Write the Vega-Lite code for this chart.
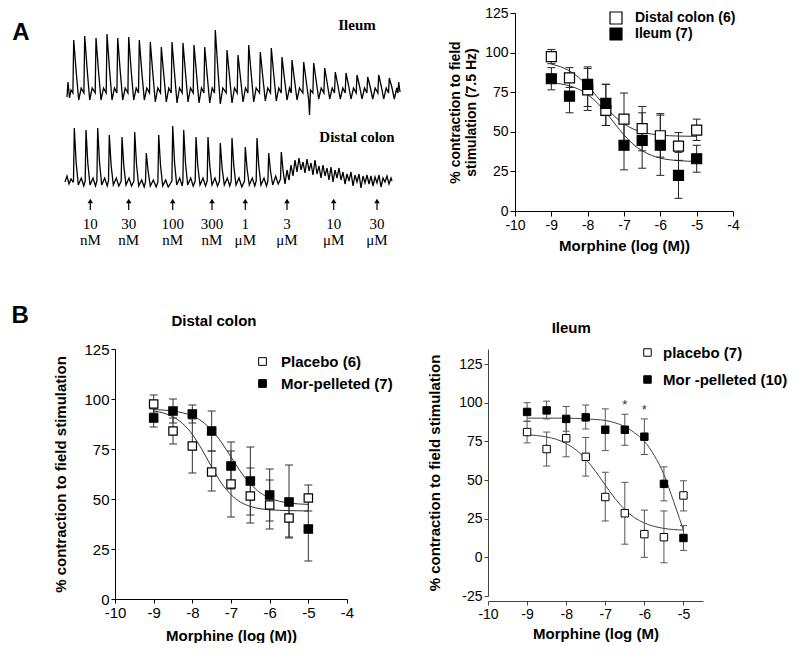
{
"$schema": "https://vega.github.io/schema/vega-lite/v6.json",
"background": "white",
"padding": {"left": 11, "top": 6, "right": 0, "bottom": 0},
"spacing": 49,
"resolve": {"scale": {"fill": "independent"}, "legend": {"fill": "independent"}},
"config": {
  "font": "Liberation Sans",
  "view": {"stroke": null},
  "axis": {"grid": false, "domainColor": "black", "tickColor": "black", "labelColor": "black", "titleColor": "black", "labelFont": "Liberation Sans", "titleFont": "Liberation Sans", "titleFontWeight": "bold", "labelFontSize": 14, "titleFontSize": 14, "tickSize": 5, "labelPadding": 2, "domainWidth": 1, "tickWidth": 1, "labelOverlap": false, "labelFlush": false},
  "legend": {"orient": "none", "symbolType": "square", "symbolStrokeColor": "black", "labelFont": "Liberation Sans", "labelFontWeight": "bold", "labelColor": "black", "padding": 0},
  "title": {"font": "Liberation Sans", "fontWeight": "bold", "color": "black"}
},
"datasets": {
  "ileum": [{"x":65,"y":97},{"x":66,"y":82},{"x":67.5,"y":98},{"x":69,"y":90},
{"x":70.9,"y":93},{"x":71.7,"y":40},{"x":74.2,"y":72},{"x":76.7,"y":100},{"x":79.2,"y":88},
{"x":81.9,"y":93},{"x":82.7,"y":36},{"x":85.2,"y":70},{"x":87.7,"y":100},{"x":90.2,"y":88},
{"x":93.2,"y":93},{"x":94,"y":38},{"x":96.5,"y":71},{"x":99,"y":100},{"x":101.5,"y":88},
{"x":104.2,"y":93},{"x":105,"y":34},{"x":107.5,"y":69},{"x":110,"y":100},{"x":112.5,"y":88},
{"x":114.9,"y":93},{"x":115.7,"y":38},{"x":118.2,"y":71},{"x":120.7,"y":100},{"x":123.2,"y":88},
{"x":125.9,"y":93},{"x":126.7,"y":37},{"x":129.2,"y":71},{"x":131.7,"y":100},{"x":134.2,"y":88},
{"x":136.5,"y":93},{"x":137.3,"y":40},{"x":139.8,"y":72},{"x":142.3,"y":100},{"x":144.8,"y":88},
{"x":147.5,"y":93},{"x":148.3,"y":42},{"x":150.8,"y":73},{"x":153.3,"y":102},{"x":155.8,"y":88},
{"x":158.5,"y":93},{"x":159.3,"y":47},{"x":161.8,"y":75},{"x":164.3,"y":102},{"x":166.8,"y":88},
{"x":169.2,"y":93},{"x":170,"y":42},{"x":172.5,"y":73},{"x":175,"y":103},{"x":177.5,"y":88},
{"x":180.2,"y":93},{"x":181,"y":43},{"x":183.5,"y":73},{"x":186,"y":102},{"x":188.5,"y":88},
{"x":191.2,"y":93},{"x":192,"y":45},{"x":194.5,"y":74},{"x":197,"y":103},{"x":199.5,"y":88},
{"x":201.9,"y":93},{"x":202.7,"y":47},{"x":205.2,"y":75},{"x":207.7,"y":103},{"x":210.2,"y":88},
{"x":212.5,"y":93},{"x":213.3,"y":30},{"x":215.8,"y":68},{"x":218.3,"y":104},{"x":220.8,"y":88},
{"x":224.2,"y":93},{"x":225,"y":50},{"x":227.5,"y":76},{"x":230,"y":103},{"x":232.5,"y":88},
{"x":235.2,"y":93},{"x":236,"y":55},{"x":238.5,"y":78},{"x":241,"y":102},{"x":243.5,"y":88},
{"x":245.9,"y":93},{"x":246.7,"y":45},{"x":249.2,"y":74},{"x":251.7,"y":102},{"x":254.2,"y":88},
{"x":257.5,"y":93},{"x":258.3,"y":52},{"x":260.8,"y":77},{"x":263.3,"y":101},{"x":265.8,"y":88},
{"x":268.5,"y":93},{"x":269.3,"y":48},{"x":271.8,"y":75},{"x":274.3,"y":101},{"x":276.8,"y":88},
{"x":279.2,"y":93},{"x":280,"y":57},{"x":282.5,"y":79},{"x":285,"y":100},{"x":287.5,"y":88},
{"x":289.2,"y":93},{"x":290,"y":60},{"x":292.5,"y":80},{"x":295,"y":100},{"x":297.5,"y":88},
{"x":300.9,"y":93},{"x":301.7,"y":62},{"x":304.2,"y":81},{"x":306.7,"y":100},{"x":307.5,"y":115},{"x":308.5,"y":90},
{"x":310.9,"y":93},{"x":311.7,"y":63},{"x":314.2,"y":81},{"x":316.7,"y":99},{"x":319.2,"y":88},
{"x":321.9,"y":93},{"x":322.7,"y":68},{"x":325.2,"y":83},{"x":327.7,"y":99},{"x":330.2,"y":88},
{"x":332.5,"y":93},{"x":333.3,"y":72},{"x":335.8,"y":85},{"x":338.3,"y":99},{"x":340.8,"y":88},
{"x":343.2,"y":93},{"x":344,"y":73},{"x":346.5,"y":85},{"x":349,"y":99},{"x":351.5,"y":88},
{"x":354.2,"y":93},{"x":355,"y":75},{"x":357.5,"y":86},{"x":360,"y":99},{"x":362.5,"y":88},
{"x":364.9,"y":93},{"x":365.7,"y":77},{"x":368.2,"y":87},{"x":370.7,"y":99},{"x":373.2,"y":88},
{"x":375.9,"y":93},{"x":376.7,"y":75},{"x":379.2,"y":86},{"x":381.7,"y":99},{"x":384.2,"y":88},
{"x":386.5,"y":93},{"x":387.3,"y":78},{"x":389.8,"y":87},{"x":392.3,"y":99},{"x":394.8,"y":88},
{"x":395.9,"y":93},{"x":396.7,"y":82},{"x":398,"y":92}],
  "colon": [{"x":63,"y":182},{"x":65,"y":176},{"x":67,"y":184},{"x":69,"y":179},{"x":71,"y":182},
{"x":71.5,"y":181},{"x":72.3,"y":128},{"x":74.1,"y":162},{"x":76.3,"y":185},{"x":79.3,"y":178},{"x":81.8,"y":186},
{"x":83.2,"y":181},{"x":84,"y":130},{"x":85.8,"y":163},{"x":88,"y":185},{"x":91,"y":178},{"x":93.5,"y":186},
{"x":94.9,"y":181},{"x":95.7,"y":128},{"x":97.5,"y":162},{"x":99.7,"y":185},{"x":102.7,"y":178},{"x":105.2,"y":186},
{"x":106.5,"y":181},{"x":107.3,"y":135},{"x":109.1,"y":165},{"x":111.3,"y":185},{"x":114.3,"y":178},{"x":116.8,"y":186},
{"x":119.2,"y":181},{"x":120,"y":137},{"x":121.8,"y":166},{"x":124,"y":185},{"x":127,"y":178},{"x":129.5,"y":186},
{"x":131.9,"y":181},{"x":132.7,"y":132},{"x":134.5,"y":164},{"x":136.7,"y":186},{"x":139.7,"y":180},{"x":142.2,"y":187},
{"x":143.5,"y":182},{"x":144.3,"y":153},{"x":146.1,"y":171},{"x":148.3,"y":186},{"x":151.3,"y":180},{"x":154.2,"y":187},
{"x":155.9,"y":182},{"x":156.7,"y":135},{"x":158.5,"y":165},{"x":160.7,"y":186},{"x":163.7,"y":180},{"x":166.2,"y":187},
{"x":169.9,"y":181},{"x":170.7,"y":126},{"x":172.5,"y":162},{"x":174.7,"y":185},{"x":177.7,"y":178},{"x":180.2,"y":186},
{"x":180.9,"y":181},{"x":181.7,"y":130},{"x":183.5,"y":163},{"x":185.7,"y":185},{"x":188.7,"y":178},{"x":191.2,"y":186},
{"x":193.2,"y":181},{"x":194,"y":137},{"x":195.8,"y":166},{"x":198,"y":185},{"x":201,"y":178},{"x":203.5,"y":186},
{"x":205.2,"y":181},{"x":206,"y":137},{"x":207.8,"y":166},{"x":210,"y":185},{"x":213,"y":178},{"x":215.5,"y":186},
{"x":217.5,"y":181},{"x":218.3,"y":143},{"x":220.1,"y":168},{"x":222.3,"y":185},{"x":225.3,"y":178},{"x":227.8,"y":186},
{"x":229.2,"y":181},{"x":230,"y":138},{"x":231.8,"y":166},{"x":234,"y":185},{"x":237,"y":178},{"x":239.8,"y":187},
{"x":242.5,"y":181},{"x":243.3,"y":147},{"x":245.1,"y":169},{"x":247.3,"y":185},{"x":250.3,"y":178},{"x":252.8,"y":186},
{"x":254.2,"y":181},{"x":255,"y":138},{"x":256.8,"y":166},{"x":259,"y":185},{"x":262,"y":178},{"x":264.5,"y":186},
{"x":265.9,"y":181},{"x":266.7,"y":153},{"x":268.5,"y":171},{"x":270.7,"y":185},{"x":273.7,"y":176},{"x":276.2,"y":184},
{"x":278.5,"y":179},{"x":279.3,"y":152},{"x":281.1,"y":171},{"x":283,"y":184},
{"x":285,"y":170},{"x":287,"y":180},{"x":289,"y":165},{"x":291,"y":176},{"x":293,"y":160},{"x":295,"y":172},{"x":297,"y":158},{"x":299,"y":170},{"x":301,"y":162},{"x":303,"y":173},{"x":305,"y":159},{"x":307,"y":171},{"x":309,"y":163},{"x":311,"y":175},{"x":313,"y":160},{"x":315,"y":174},{"x":317,"y":166},{"x":319,"y":178},{"x":321,"y":165},{"x":323,"y":176},{"x":325,"y":168},{"x":327,"y":180},{"x":329,"y":167},{"x":331,"y":182},{"x":333,"y":170},{"x":335,"y":178},{"x":337,"y":168},{"x":339,"y":180},{"x":341,"y":172},{"x":343,"y":184},{"x":345,"y":174},{"x":347,"y":181},{"x":349,"y":172},{"x":351,"y":186},{"x":353,"y":175},{"x":355,"y":182},{"x":357,"y":174},{"x":359,"y":188},{"x":361,"y":176},{"x":363,"y":183},{"x":365,"y":175},{"x":367,"y":184},{"x":369,"y":176},{"x":371,"y":186},{"x":373,"y":177},{"x":375,"y":183},{"x":377,"y":175},{"x":379,"y":187},{"x":381,"y":178},{"x":383,"y":182},{"x":385,"y":176},{"x":387,"y":184},{"x":389,"y":178},{"x":390,"y":181}],
  "doses": [{"x":88.3,"c":"10","u":"nM"},{"x":126.7,"c":"30","u":"nM"},{"x":170.7,"c":"100","u":"nM"},{"x":210,"c":"300","u":"nM"},{"x":243.3,"c":"1","u":"μM"},{"x":285,"c":"3","u":"μM"},{"x":331.7,"c":"10","u":"μM"},{"x":375,"c":"30","u":"μM"}],
  "ptsA": [
{"g":"Distal colon (6)","x":-9,"y":97.5,"lo":93,"hi":102},
{"g":"Distal colon (6)","x":-8.5,"y":84,"lo":78,"hi":90.5},
{"g":"Distal colon (6)","x":-8,"y":76.5,"lo":63.5,"hi":91},
{"g":"Distal colon (6)","x":-7.5,"y":63.5,"lo":54,"hi":80},
{"g":"Distal colon (6)","x":-7,"y":58,"lo":42,"hi":74.5},
{"g":"Distal colon (6)","x":-6.5,"y":52,"lo":38,"hi":66},
{"g":"Distal colon (6)","x":-6,"y":47.5,"lo":34,"hi":61.5},
{"g":"Distal colon (6)","x":-5.5,"y":41,"lo":32,"hi":49.5},
{"g":"Distal colon (6)","x":-5,"y":51,"lo":44.5,"hi":58},
{"g":"Ileum (7)","x":-9,"y":83.5,"lo":76.5,"hi":90.5},
{"g":"Ileum (7)","x":-8.5,"y":72.5,"lo":62,"hi":83},
{"g":"Ileum (7)","x":-8,"y":80,"lo":66,"hi":90},
{"g":"Ileum (7)","x":-7.5,"y":68,"lo":54,"hi":80},
{"g":"Ileum (7)","x":-7,"y":41.5,"lo":26,"hi":57},
{"g":"Ileum (7)","x":-6.5,"y":44.5,"lo":27,"hi":62},
{"g":"Ileum (7)","x":-6,"y":41.5,"lo":22.5,"hi":60.5},
{"g":"Ileum (7)","x":-5.5,"y":22.5,"lo":8,"hi":37},
{"g":"Ileum (7)","x":-5,"y":33,"lo":24.5,"hi":41.5}],
  "curveA": [
{"g":"Distal colon (6)","x":-9,"y":92.7},{"g":"Distal colon (6)","x":-8.75,"y":91.1},{"g":"Distal colon (6)","x":-8.5,"y":88.4},{"g":"Distal colon (6)","x":-8.25,"y":84.4},{"g":"Distal colon (6)","x":-8,"y":79},{"g":"Distal colon (6)","x":-7.75,"y":72.4},{"g":"Distal colon (6)","x":-7.5,"y":65.6},{"g":"Distal colon (6)","x":-7.25,"y":59.6},{"g":"Distal colon (6)","x":-7,"y":55},{"g":"Distal colon (6)","x":-6.75,"y":51.8},{"g":"Distal colon (6)","x":-6.5,"y":49.8},{"g":"Distal colon (6)","x":-6.25,"y":48.6},{"g":"Distal colon (6)","x":-6,"y":47.9},{"g":"Distal colon (6)","x":-5.5,"y":47.3},{"g":"Distal colon (6)","x":-5,"y":47.1},
{"g":"Ileum (7)","x":-9,"y":81},{"g":"Ileum (7)","x":-8.5,"y":79},{"g":"Ileum (7)","x":-8.25,"y":76.9},{"g":"Ileum (7)","x":-8,"y":73.5},{"g":"Ileum (7)","x":-7.75,"y":68.6},{"g":"Ileum (7)","x":-7.5,"y":62.3},{"g":"Ileum (7)","x":-7.25,"y":55},{"g":"Ileum (7)","x":-7,"y":48},{"g":"Ileum (7)","x":-6.75,"y":42.2},{"g":"Ileum (7)","x":-6.5,"y":38},{"g":"Ileum (7)","x":-6.25,"y":35.2},{"g":"Ileum (7)","x":-6,"y":33.4},{"g":"Ileum (7)","x":-5.5,"y":31.8},{"g":"Ileum (7)","x":-5,"y":31.3}],
  "ptsB1": [
{"g":"Placebo (6)","x":-9,"y":97.5,"lo":93,"hi":102},
{"g":"Placebo (6)","x":-8.5,"y":84,"lo":77.5,"hi":90.5},
{"g":"Placebo (6)","x":-8,"y":76.5,"lo":63,"hi":90},
{"g":"Placebo (6)","x":-7.5,"y":63.5,"lo":54,"hi":74},
{"g":"Placebo (6)","x":-7,"y":57.5,"lo":41,"hi":74},
{"g":"Placebo (6)","x":-6.5,"y":51.5,"lo":38,"hi":65.5},
{"g":"Placebo (6)","x":-6,"y":47,"lo":35,"hi":59.5},
{"g":"Placebo (6)","x":-5.5,"y":40.5,"lo":31,"hi":50},
{"g":"Placebo (6)","x":-5,"y":50.5,"lo":44,"hi":57},
{"g":"Mor-pelleted (7)","x":-9,"y":90.5,"lo":86,"hi":95},
{"g":"Mor-pelleted (7)","x":-8.5,"y":94,"lo":88,"hi":100},
{"g":"Mor-pelleted (7)","x":-8,"y":92.5,"lo":88,"hi":97},
{"g":"Mor-pelleted (7)","x":-7.5,"y":84,"lo":74,"hi":94},
{"g":"Mor-pelleted (7)","x":-7,"y":66.5,"lo":55,"hi":78.5},
{"g":"Mor-pelleted (7)","x":-6.5,"y":59,"lo":42,"hi":76},
{"g":"Mor-pelleted (7)","x":-6,"y":52,"lo":39,"hi":65},
{"g":"Mor-pelleted (7)","x":-5.5,"y":48.5,"lo":30.5,"hi":67},
{"g":"Mor-pelleted (7)","x":-5,"y":35,"lo":19,"hi":51}],
  "curveB1": [
{"g":"Placebo (6)","x":-9,"y":94},{"g":"Placebo (6)","x":-8.75,"y":93},{"g":"Placebo (6)","x":-8.5,"y":91.1},{"g":"Placebo (6)","x":-8.25,"y":87.7},{"g":"Placebo (6)","x":-8,"y":82.3},{"g":"Placebo (6)","x":-7.75,"y":74.7},{"g":"Placebo (6)","x":-7.5,"y":66},{"g":"Placebo (6)","x":-7.25,"y":58},{"g":"Placebo (6)","x":-7,"y":52.2},{"g":"Placebo (6)","x":-6.75,"y":48.4},{"g":"Placebo (6)","x":-6.5,"y":46.3},{"g":"Placebo (6)","x":-6,"y":44.6},{"g":"Placebo (6)","x":-5.5,"y":44.2},{"g":"Placebo (6)","x":-5,"y":44},
{"g":"Mor-pelleted (7)","x":-9,"y":94.7},{"g":"Mor-pelleted (7)","x":-8.5,"y":94},{"g":"Mor-pelleted (7)","x":-8,"y":91.5},{"g":"Mor-pelleted (7)","x":-7.75,"y":88.8},{"g":"Mor-pelleted (7)","x":-7.5,"y":84.4},{"g":"Mor-pelleted (7)","x":-7.25,"y":78.4},{"g":"Mor-pelleted (7)","x":-7,"y":71},{"g":"Mor-pelleted (7)","x":-6.75,"y":63.6},{"g":"Mor-pelleted (7)","x":-6.5,"y":57.6},{"g":"Mor-pelleted (7)","x":-6.25,"y":53.2},{"g":"Mor-pelleted (7)","x":-6,"y":50.5},{"g":"Mor-pelleted (7)","x":-5.5,"y":48},{"g":"Mor-pelleted (7)","x":-5,"y":47.3}],
  "ptsB2": [
{"g":"placebo (7)","x":-9,"y":81,"lo":74,"hi":88,"sig":""},
{"g":"placebo (7)","x":-8.5,"y":70,"lo":59,"hi":81,"sig":""},
{"g":"placebo (7)","x":-8,"y":77,"lo":65,"hi":89,"sig":""},
{"g":"placebo (7)","x":-7.5,"y":65,"lo":52.5,"hi":77.5,"sig":""},
{"g":"placebo (7)","x":-7,"y":39,"lo":23.5,"hi":55,"sig":""},
{"g":"placebo (7)","x":-6.5,"y":28.5,"lo":8.5,"hi":48.5,"sig":""},
{"g":"placebo (7)","x":-6,"y":15,"lo":0,"hi":30.5,"sig":""},
{"g":"placebo (7)","x":-5.5,"y":13,"lo":-3.5,"hi":30,"sig":""},
{"g":"placebo (7)","x":-5,"y":40,"lo":30,"hi":49.5,"sig":""},
{"g":"Mor -pelleted (10)","x":-9,"y":94,"lo":88,"hi":100,"sig":""},
{"g":"Mor -pelleted (10)","x":-8.5,"y":95,"lo":89.5,"hi":101,"sig":""},
{"g":"Mor -pelleted (10)","x":-8,"y":89.5,"lo":81.5,"hi":97.5,"sig":""},
{"g":"Mor -pelleted (10)","x":-7.5,"y":90.5,"lo":83,"hi":98.5,"sig":""},
{"g":"Mor -pelleted (10)","x":-7,"y":82.5,"lo":69,"hi":96,"sig":""},
{"g":"Mor -pelleted (10)","x":-6.5,"y":82.5,"lo":72.5,"hi":92.5,"sig":"*"},
{"g":"Mor -pelleted (10)","x":-6,"y":78,"lo":66.5,"hi":89.5,"sig":"*"},
{"g":"Mor -pelleted (10)","x":-5.5,"y":47.5,"lo":36.5,"hi":58.5,"sig":""},
{"g":"Mor -pelleted (10)","x":-5,"y":12.5,"lo":4.5,"hi":20.5,"sig":""}],
  "curveB2": [
{"g":"placebo (7)","x":-9,"y":79.3},{"g":"placebo (7)","x":-8.5,"y":77.8},{"g":"placebo (7)","x":-8.25,"y":76.3},{"g":"placebo (7)","x":-8,"y":73.6},{"g":"placebo (7)","x":-7.75,"y":69.5},{"g":"placebo (7)","x":-7.5,"y":63.5},{"g":"placebo (7)","x":-7.25,"y":55.6},{"g":"placebo (7)","x":-7,"y":46.7},{"g":"placebo (7)","x":-6.75,"y":38},{"g":"placebo (7)","x":-6.5,"y":30.9},{"g":"placebo (7)","x":-6.25,"y":25.6},{"g":"placebo (7)","x":-6,"y":22.2},{"g":"placebo (7)","x":-5.75,"y":20},{"g":"placebo (7)","x":-5.5,"y":18.7},{"g":"placebo (7)","x":-5,"y":17.6},
{"g":"Mor -pelleted (10)","x":-9,"y":90},{"g":"Mor -pelleted (10)","x":-8,"y":90},{"g":"Mor -pelleted (10)","x":-7.5,"y":89.5},{"g":"Mor -pelleted (10)","x":-7,"y":88.5},{"g":"Mor -pelleted (10)","x":-6.75,"y":87},{"g":"Mor -pelleted (10)","x":-6.5,"y":84.5},{"g":"Mor -pelleted (10)","x":-6.25,"y":80.5},{"g":"Mor -pelleted (10)","x":-6,"y":75},{"g":"Mor -pelleted (10)","x":-5.75,"y":66},{"g":"Mor -pelleted (10)","x":-5.5,"y":53.5},{"g":"Mor -pelleted (10)","x":-5.25,"y":36},{"g":"Mor -pelleted (10)","x":-5.1,"y":25},{"g":"Mor -pelleted (10)","x":-5,"y":17.5}]
},
"vconcat": [
{
  "spacing": 45,
  "resolve": {"scale": {"fill": "independent"}, "legend": {"fill": "independent"}},
  "hconcat": [
  {
    "width": 287, "height": 242,
    "layer": [
      {"data": {"name": "ileum"}, "mark": {"type": "line", "color": "black", "strokeWidth": 1.3},
       "encoding": {"x": {"field": "x", "type": "quantitative", "scale": {"domain": [113, 400], "nice": false, "zero": false}, "axis": null},
                    "y": {"field": "y", "type": "quantitative", "scale": {"domain": [13, 255], "reverse": true, "nice": false, "zero": false}, "axis": null}}},
      {"data": {"name": "colon"}, "mark": {"type": "line", "color": "black", "strokeWidth": 1.3},
       "encoding": {"x": {"field": "x", "type": "quantitative", "axis": null}, "y": {"field": "y", "type": "quantitative", "axis": null}}},
      {"data": {"name": "doses"}, "mark": {"type": "rule", "color": "black", "strokeWidth": 1.2},
       "encoding": {"x": {"field": "x", "type": "quantitative", "axis": null}, "y": {"datum": 210, "type": "quantitative", "axis": null}, "y2": {"datum": 202}}},
      {"data": {"name": "doses"}, "mark": {"type": "point", "shape": "triangle-up", "filled": true, "color": "black", "size": 30, "opacity": 1},
       "encoding": {"x": {"field": "x", "type": "quantitative", "axis": null}, "y": {"datum": 201, "type": "quantitative", "axis": null}}},
      {"data": {"name": "doses"}, "mark": {"type": "text", "font": "Liberation Serif", "fontSize": 15, "color": "black", "baseline": "middle"},
       "encoding": {"x": {"field": "x", "type": "quantitative", "axis": null}, "y": {"datum": 224, "type": "quantitative", "axis": null}, "text": {"field": "c"}}},
      {"data": {"name": "doses"}, "mark": {"type": "text", "font": "Liberation Serif", "fontSize": 15, "color": "black", "baseline": "middle"},
       "encoding": {"x": {"field": "x", "type": "quantitative", "axis": null}, "y": {"datum": 240, "type": "quantitative", "axis": null}, "text": {"field": "u"}}},
      {"data": {"values": [{}]}, "mark": {"type": "text", "font": "Liberation Serif", "fontSize": 15, "fontWeight": "bold", "color": "black", "baseline": "middle"},
       "encoding": {"x": {"datum": 355, "type": "quantitative", "axis": null}, "y": {"datum": 25, "type": "quantitative", "axis": null}, "text": {"value": "Ileum"}}},
      {"data": {"values": [{}]}, "mark": {"type": "text", "font": "Liberation Serif", "fontSize": 15, "fontWeight": "bold", "color": "black", "baseline": "middle"},
       "encoding": {"x": {"datum": 355, "type": "quantitative", "axis": null}, "y": {"datum": 137, "type": "quantitative", "axis": null}, "text": {"value": "Distal colon"}}},
      {"data": {"values": [{}]}, "mark": {"type": "text", "font": "Liberation Sans", "fontSize": 24, "fontWeight": "bold", "color": "black", "baseline": "middle"},
       "encoding": {"x": {"datum": 19, "type": "quantitative", "axis": null}, "y": {"datum": 33, "type": "quantitative", "axis": null}, "text": {"value": "A"}}}
    ]
  },
  {
    "width": 218, "height": 198,
    "layer": [
      {"data": {"name": "curveA"}, "mark": {"type": "line", "color": "#333", "strokeWidth": 1, "interpolate": "monotone"},
       "encoding": {
         "x": {"field": "x", "type": "quantitative", "scale": {"domain": [-10, -4], "nice": false, "zero": false}, "axis": {"values": [-10,-9,-8,-7,-6,-5,-4], "tickCount": 20, "labelOverlap": false, "labelExpr": "'' + datum.value", "title": "Morphine (log (M))", "titleFontSize": 15, "titlePadding": 6}},
         "y": {"field": "y", "type": "quantitative", "scale": {"domain": [0, 125], "nice": false}, "axis": {"values": [0,25,50,75,100,125], "tickCount": 20, "labelOverlap": false, "title": ["% contraction to field", "stimulation (7.5 Hz)"], "titlePadding": 6}},
         "detail": {"field": "g"}}},
      {"data": {"name": "ptsA"}, "mark": {"type": "rule", "color": "#222", "strokeWidth": 1},
       "encoding": {"x": {"field": "x", "type": "quantitative"}, "y": {"field": "lo", "type": "quantitative"}, "y2": {"field": "hi"}}},
      {"data": {"name": "ptsA"}, "mark": {"type": "tick", "orient": "horizontal", "size": 8, "thickness": 1, "color": "#222", "opacity": 1},
       "encoding": {"x": {"field": "x", "type": "quantitative"}, "y": {"field": "lo", "type": "quantitative"}}},
      {"data": {"name": "ptsA"}, "mark": {"type": "tick", "orient": "horizontal", "size": 8, "thickness": 1, "color": "#222", "opacity": 1},
       "encoding": {"x": {"field": "x", "type": "quantitative"}, "y": {"field": "hi", "type": "quantitative"}}},
      {"data": {"name": "ptsA"}, "mark": {"type": "point", "shape": "square", "filled": true, "size": 100, "stroke": "black", "strokeWidth": 1.2, "opacity": 1},
       "encoding": {"x": {"field": "x", "type": "quantitative"}, "y": {"field": "y", "type": "quantitative"},
         "fill": {"field": "g", "type": "nominal", "scale": {"domain": ["Distal colon (6)", "Ileum (7)"], "range": ["white", "black"]},
           "legend": {"title": null, "legendX": 94, "legendY": -2, "symbolSize": 144, "symbolStrokeWidth": 1.2, "labelFontSize": 14, "labelOffset": 12, "rowPadding": -4}}}}
    ]
  }
  ]
},
{
  "spacing": 34,
  "resolve": {"scale": {"fill": "independent"}, "legend": {"fill": "independent"}},
  "hconcat": [
  {
    "width": 232, "height": 250,
    "layer": [
      {"data": {"name": "curveB1"}, "mark": {"type": "line", "color": "#333", "strokeWidth": 1, "interpolate": "monotone"},
       "encoding": {
         "x": {"field": "x", "type": "quantitative", "scale": {"domain": [-10, -4], "nice": false, "zero": false}, "axis": {"values": [-10,-9,-8,-7,-6,-5,-4], "tickCount": 20, "labelOverlap": false, "labelExpr": "'' + datum.value", "title": "Morphine (log (M))", "titleFontSize": 15, "titlePadding": 8, "tickSize": 4, "labelFontSize": 15}},
         "y": {"field": "y", "type": "quantitative", "scale": {"domain": [0, 125], "nice": false}, "axis": {"values": [0,25,50,75,100,125], "tickCount": 20, "labelOverlap": false, "title": "% contraction to field stimulation", "titleFontSize": 15, "titlePadding": 15, "tickSize": 4, "labelFontSize": 15}},
         "detail": {"field": "g"}}},
      {"data": {"name": "ptsB1"}, "mark": {"type": "rule", "color": "#333", "strokeWidth": 1},
       "encoding": {"x": {"field": "x", "type": "quantitative"}, "y": {"field": "lo", "type": "quantitative"}, "y2": {"field": "hi"}}},
      {"data": {"name": "ptsB1"}, "mark": {"type": "tick", "orient": "horizontal", "size": 8, "thickness": 1, "color": "#333", "opacity": 1},
       "encoding": {"x": {"field": "x", "type": "quantitative"}, "y": {"field": "lo", "type": "quantitative"}}},
      {"data": {"name": "ptsB1"}, "mark": {"type": "tick", "orient": "horizontal", "size": 8, "thickness": 1, "color": "#333", "opacity": 1},
       "encoding": {"x": {"field": "x", "type": "quantitative"}, "y": {"field": "hi", "type": "quantitative"}}},
      {"data": {"name": "ptsB1"}, "mark": {"type": "point", "shape": "square", "filled": true, "size": 70, "stroke": "black", "strokeWidth": 1.2, "opacity": 1},
       "encoding": {"x": {"field": "x", "type": "quantitative"}, "y": {"field": "y", "type": "quantitative"},
         "fill": {"field": "g", "type": "nominal", "scale": {"domain": ["Placebo (6)", "Mor-pelleted (7)"], "range": ["white", "black"]},
           "legend": {"title": null, "legendX": 140, "legendY": 5, "symbolSize": 60, "symbolStrokeWidth": 1, "labelFontSize": 15, "labelOffset": 11, "rowPadding": 6}}}},
      {"data": {"values": [{}]}, "mark": {"type": "text", "font": "Liberation Sans", "fontSize": 24, "fontWeight": "bold", "color": "black", "baseline": "middle"},
       "encoding": {"x": {"datum": -12.45, "type": "quantitative"}, "y": {"datum": 141.5, "type": "quantitative"}, "text": {"value": "B"}}},
      {"data": {"values": [{}]}, "mark": {"type": "text", "font": "Liberation Sans", "fontSize": 15, "fontWeight": "bold", "color": "black", "baseline": "middle"},
       "encoding": {"x": {"datum": -7.44, "type": "quantitative"}, "y": {"datum": 139, "type": "quantitative"}, "text": {"value": "Distal colon"}}}
    ]
  },
  {
    "width": 215, "height": 247,
    "layer": [
      {"data": {"name": "curveB2"}, "mark": {"type": "line", "color": "#444", "strokeWidth": 1, "interpolate": "monotone"},
       "encoding": {
         "x": {"field": "x", "type": "quantitative", "scale": {"domain": [-10, -4.5], "nice": false, "zero": false}, "axis": {"values": [-10,-9,-8,-7,-6,-5], "tickCount": 20, "labelOverlap": false, "labelExpr": "'' + datum.value", "title": "Morphine (log (M)", "titleFontSize": 15, "titlePadding": 5, "offset": 5, "tickSize": 4, "labelFontSize": 14, "domainColor": "#444", "tickColor": "#444"}},
         "y": {"field": "y", "type": "quantitative", "scale": {"domain": [-25, 134.7], "nice": false, "zero": false}, "axis": {"values": [-25,0,25,50,75,100,125], "tickCount": 20, "labelOverlap": false, "labelExpr": "'' + datum.value", "title": "% contraction to field stimulation", "titleFontSize": 15, "titlePadding": 16, "tickSize": 4, "labelFontSize": 14, "domainColor": "#444", "tickColor": "#444"}},
         "detail": {"field": "g"}}},
      {"data": {"name": "ptsB2"}, "mark": {"type": "rule", "color": "#555", "strokeWidth": 1},
       "encoding": {"x": {"field": "x", "type": "quantitative"}, "y": {"field": "lo", "type": "quantitative"}, "y2": {"field": "hi"}}},
      {"data": {"name": "ptsB2"}, "mark": {"type": "tick", "orient": "horizontal", "size": 7, "thickness": 1, "color": "#555", "opacity": 1},
       "encoding": {"x": {"field": "x", "type": "quantitative"}, "y": {"field": "lo", "type": "quantitative"}}},
      {"data": {"name": "ptsB2"}, "mark": {"type": "tick", "orient": "horizontal", "size": 7, "thickness": 1, "color": "#555", "opacity": 1},
       "encoding": {"x": {"field": "x", "type": "quantitative"}, "y": {"field": "hi", "type": "quantitative"}}},
      {"data": {"name": "ptsB2"}, "transform": [{"filter": "datum.sig != ''"}], "mark": {"type": "text", "fontSize": 13, "color": "#333", "baseline": "middle", "dy": -9},
       "encoding": {"x": {"field": "x", "type": "quantitative"}, "y": {"field": "hi", "type": "quantitative"}, "text": {"field": "sig"}}},
      {"data": {"name": "ptsB2"}, "mark": {"type": "point", "shape": "square", "filled": true, "size": 55, "stroke": "black", "strokeWidth": 1, "opacity": 1},
       "encoding": {"x": {"field": "x", "type": "quantitative"}, "y": {"field": "y", "type": "quantitative"},
         "fill": {"field": "g", "type": "nominal", "scale": {"domain": ["placebo (7)", "Mor -pelleted (10)"], "range": ["white", "black"]},
           "legend": {"title": null, "legendX": 152, "legendY": -4, "symbolSize": 56, "symbolStrokeWidth": 1, "labelFontSize": 15, "labelOffset": 8, "rowPadding": 11}}}},
      {"data": {"values": [{}]}, "mark": {"type": "text", "font": "Liberation Sans", "fontSize": 15, "fontWeight": "bold", "color": "black", "baseline": "middle"},
       "encoding": {"x": {"datum": -7.87, "type": "quantitative"}, "y": {"datum": 148.3, "type": "quantitative"}, "text": {"value": "Ileum"}}}
    ]
  }
  ]
}
]
}
